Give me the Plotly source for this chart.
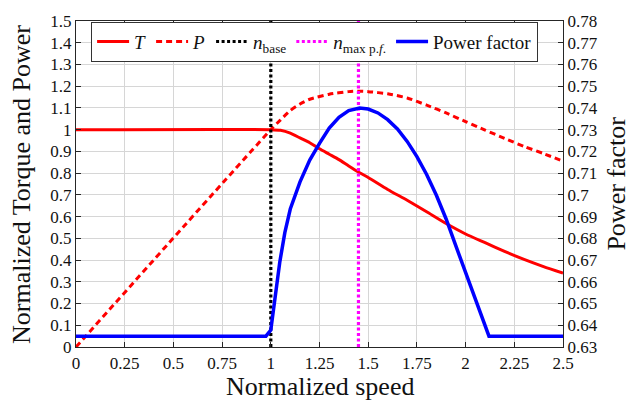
import plotly.graph_objects as go

# ---- data ----
t_speed = [0, 1.0, 1.05, 1.1, 1.15, 1.2, 1.25, 1.3, 1.35, 1.4, 1.456, 1.5, 1.6, 1.7, 1.8, 1.9, 2.0, 2.1, 2.2, 2.3, 2.4, 2.5]
torque = [1.0, 1.0, 0.997, 0.984, 0.962, 0.94, 0.912, 0.887, 0.862, 0.833, 0.802, 0.78, 0.725, 0.675, 0.622, 0.568, 0.52, 0.48, 0.44, 0.403, 0.37, 0.34]

p_speed = [0, 1.0, 1.05, 1.1, 1.15, 1.2, 1.3, 1.4, 1.45, 1.5, 1.6, 1.7, 1.8, 1.9, 2.0, 2.1, 2.2, 2.3, 2.4, 2.5]
power = [0.0, 1.0, 1.045, 1.088, 1.118, 1.14, 1.163, 1.175, 1.177, 1.175, 1.165, 1.146, 1.113, 1.077, 1.037, 0.998, 0.96, 0.923, 0.89, 0.855]

pf_speed = [0, 0.975, 1.0, 1.02, 1.046, 1.072, 1.1, 1.15, 1.2, 1.25, 1.3, 1.35, 1.4, 1.456, 1.5, 1.55, 1.6, 1.65, 1.7, 1.75, 1.8, 1.85, 1.9, 1.95, 2.0, 2.05, 2.1, 2.12, 2.5]
pf = [0.635, 0.635, 0.6378, 0.6525, 0.669, 0.6826, 0.6935, 0.706, 0.716, 0.7237, 0.7307, 0.7357, 0.7388, 0.74, 0.7395, 0.7377, 0.7346, 0.7303, 0.7246, 0.7176, 0.7094, 0.6998, 0.6889, 0.6765, 0.6642, 0.652, 0.6398, 0.635, 0.635]

n_base = 1.0
n_max_pf = 1.45

x_ticks = [0, 0.25, 0.5, 0.75, 1, 1.25, 1.5, 1.75, 2, 2.25, 2.5]
x_ticktext = ["0", "0.25", "0.5", "0.75", "1", "1.25", "1.5", "1.75", "2", "2.25", "2.5"]
y_ticks = [i / 10 for i in range(16)]
y_ticktext = ["0", "0.1", "0.2", "0.3", "0.4", "0.5", "0.6", "0.7", "0.8", "0.9", "1", "1.1", "1.2", "1.3", "1.4", "1.5"]
y2_ticks = [0.63 + i / 100 for i in range(16)]
y2_ticktext = ["0.63", "0.64", "0.65", "0.66", "0.67", "0.68", "0.69", "0.7", "0.71", "0.72", "0.73", "0.74", "0.75", "0.76", "0.77", "0.78"]

FONT = "Liberation Serif"

fig = go.Figure()
fig.add_trace(go.Scatter(x=t_speed, y=torque, mode="lines", name="<i>T</i>",
                         line=dict(color="#ff0000", width=3, shape="spline", smoothing=0.6)))
fig.add_trace(go.Scatter(x=p_speed, y=power, mode="lines", name="<i>P</i>",
                         line=dict(color="#ff0000", width=3, dash="6px,4px", shape="spline", smoothing=0.6)))
fig.add_trace(go.Scatter(x=[n_base, n_base], y=[0, 1.5], mode="lines",
                         name="<i>n</i><sub>base</sub>",
                         line=dict(color="#000000", width=3.2, dash="3px,2.5px")))
fig.add_trace(go.Scatter(x=[n_max_pf, n_max_pf], y=[0, 1.5], mode="lines",
                         name="<i>n</i><sub>max p.<i>f</i>.</sub>",
                         line=dict(color="#ff00ff", width=3.2, dash="3px,2.5px")))
fig.add_trace(go.Scatter(x=pf_speed, y=pf, mode="lines", name="Power factor",
                         line=dict(color="#0000ff", width=3.5), yaxis="y2"))

axis_common = dict(showline=True, linecolor="#262626", linewidth=1.3,
                   ticks="inside", ticklen=5, tickcolor="#262626",
                   tickfont=dict(family=FONT, size=17, color="#111111"),
                   zeroline=False)

fig.update_layout(
    width=632, height=403,
    margin=dict(l=76, r=69, t=15, b=56),
    plot_bgcolor="white", paper_bgcolor="white",
    font=dict(family=FONT, color="#111111"),
    showlegend=True,
    legend=dict(orientation="h", x=0.031, y=0.998, xanchor="left", yanchor="top",
                bgcolor="white", bordercolor="#333333", borderwidth=1,
                font=dict(family=FONT, size=19, color="#111111"),
                itemwidth=32, tracegroupgap=0),
    xaxis=dict(range=[0, 2.5], tickvals=x_ticks, ticktext=x_ticktext,
               showgrid=True, gridcolor="#d6d6d6", gridwidth=1,
               mirror="ticks", **axis_common),
    yaxis=dict(range=[0, 1.5], tickvals=y_ticks, ticktext=y_ticktext,
               showgrid=True, gridcolor="#d6d6d6", gridwidth=1,
               mirror=True, **axis_common),
    yaxis2=dict(range=[0.63, 0.78], tickvals=y2_ticks, ticktext=y2_ticktext,
                overlaying="y", side="right", showgrid=False, **axis_common),
    annotations=[
        dict(text="Normalized speed", xref="paper", yref="paper", x=0.5, y=-0.122,
             xanchor="center", yanchor="middle", showarrow=False,
             font=dict(family=FONT, size=26, color="#111111")),
        dict(text="Normalized Torque and Power", xref="paper", yref="paper", x=-0.113, y=0.5,
             xanchor="center", yanchor="middle", textangle=-90, showarrow=False,
             font=dict(family=FONT, size=26, color="#111111")),
        dict(text="Power factor", xref="paper", yref="paper", x=1.108, y=0.5,
             xanchor="center", yanchor="middle", textangle=-90, showarrow=False,
             font=dict(family=FONT, size=26, color="#111111")),
    ],
)

fig.write_html("out.html", config={"displayModeBar": False},
               post_script="document.body.style.margin='0';document.body.style.padding='0';")
